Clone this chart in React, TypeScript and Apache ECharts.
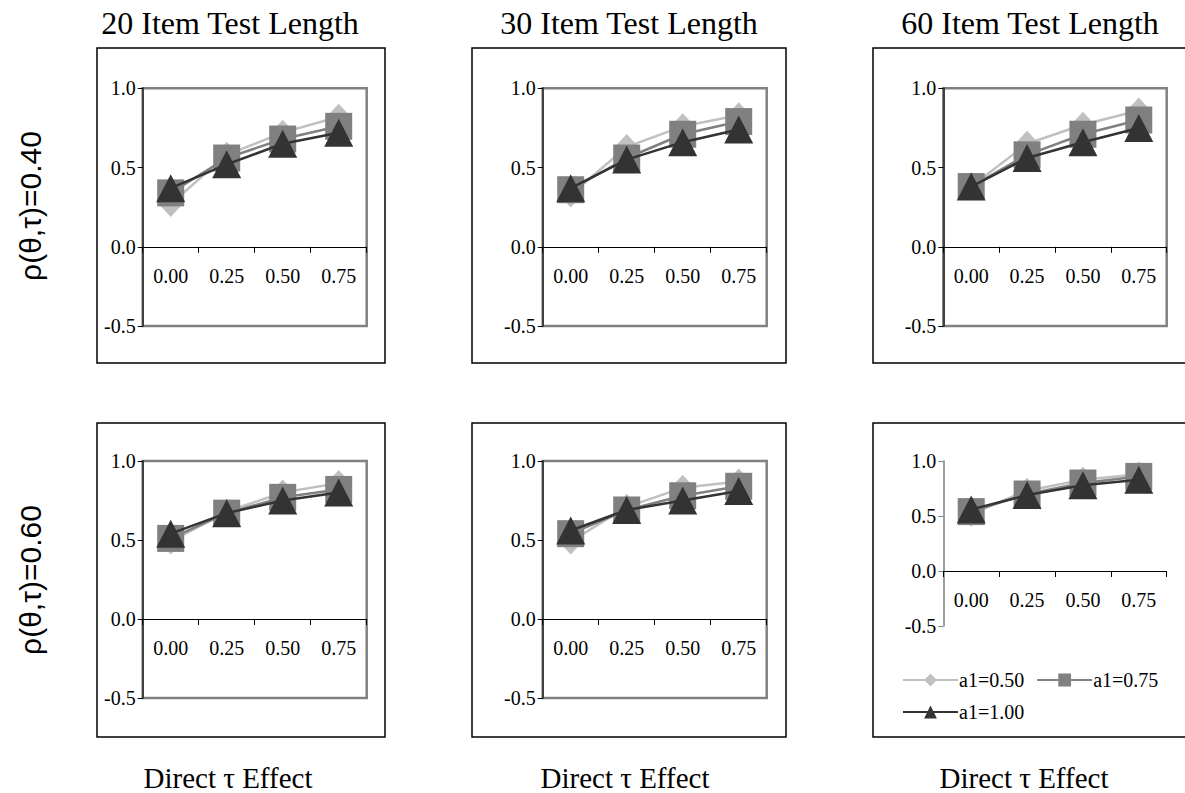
import React, { useEffect, useRef } from 'react';
import * as echarts from 'echarts';

const categories = ['0.00', '0.25', '0.50', '0.75'];
const columnTitles = ['20 Item Test Length', '30 Item Test Length', '60 Item Test Length'];
const rowLabels = ['ρ(θ,τ)=0.40', 'ρ(θ,τ)=0.60'];
const xAxisTitle = 'Direct τ Effect';
const seriesNames = ['a1=0.50', 'a1=0.75', 'a1=1.00'];
const yTicks = [-0.5, 0.0, 0.5, 1.0];

// rho = 0.40
const p20r40_a050 = [0.27, 0.58, 0.72, 0.82];
const p20r40_a075 = [0.34, 0.56, 0.68, 0.76];
const p20r40_a100 = [0.37, 0.52, 0.65, 0.72];
const p30r40_a050 = [0.33, 0.63, 0.76, 0.83];
const p30r40_a075 = [0.36, 0.56, 0.71, 0.79];
const p30r40_a100 = [0.37, 0.55, 0.66, 0.74];
const p60r40_a050 = [0.38, 0.65, 0.77, 0.86];
const p60r40_a075 = [0.38, 0.58, 0.71, 0.80];
const p60r40_a100 = [0.38, 0.56, 0.66, 0.75];
// rho = 0.60
const p20r60_a050 = [0.49, 0.68, 0.80, 0.86];
const p20r60_a075 = [0.51, 0.67, 0.77, 0.82];
const p20r60_a100 = [0.54, 0.67, 0.75, 0.80];
const p30r60_a050 = [0.49, 0.71, 0.83, 0.87];
const p30r60_a075 = [0.54, 0.69, 0.78, 0.84];
const p30r60_a100 = [0.56, 0.69, 0.75, 0.81];
const p60r60_a050 = [0.52, 0.73, 0.83, 0.88];
const p60r60_a075 = [0.54, 0.70, 0.80, 0.86];
const p60r60_a100 = [0.56, 0.69, 0.78, 0.83];

const panelData = [
  [p20r40_a050, p20r40_a075, p20r40_a100],
  [p30r40_a050, p30r40_a075, p30r40_a100],
  [p60r40_a050, p60r40_a075, p60r40_a100],
  [p20r60_a050, p20r60_a075, p20r60_a100],
  [p30r60_a050, p30r60_a075, p30r60_a100],
  [p60r60_a050, p60r60_a075, p60r60_a100],
];

const SERIF = '"Liberation Serif", "Times New Roman", serif';
const SANS = '"Liberation Sans", Arial, sans-serif';

const Y_MIN = -0.5;
const Y_MAX = 1.0;

const grids = [
  { left: 142.7, top: 88.3, width: 224, height: 237.7, border: true },
  { left: 542.7, top: 88.3, width: 224, height: 237.7, border: true },
  { left: 943.3, top: 88.3, width: 223.4, height: 237.7, border: true },
  { left: 142.7, top: 461, width: 224, height: 237, border: true },
  { left: 542.7, top: 461, width: 224, height: 237, border: true },
  { left: 943.3, top: 461, width: 223.4, height: 165, border: false },
];

const seriesStyles = [
  { color: '#c0c0c0', symbol: 'diamond', size: [24, 26] },
  { color: '#808080', symbol: 'rect', size: 27 },
  { color: '#333333', symbol: 'triangle', size: [29, 28] },
];

function buildOption() {
  const grid = grids.map((g) => ({
    left: g.left,
    top: g.top,
    width: g.width,
    height: g.height,
    show: g.border,
    borderColor: '#808080',
    borderWidth: 2.5,
    backgroundColor: 'transparent',
  }));
  const xAxis = grids.map((g, i) => ({
    type: 'category',
    gridIndex: i,
    position: 'bottom',
    // place the axis (line, ticks, labels) at the y = 0 level
    offset: -(g.height * (0 - Y_MIN)) / (Y_MAX - Y_MIN),
    data: categories,
    boundaryGap: true,
    axisLine: { onZero: false, lineStyle: { color: '#000', width: 1 } },
    axisTick: { show: true, length: 6, inside: false, lineStyle: { color: '#000', width: 1 } },
    axisLabel: { margin: 19, color: '#000', fontFamily: SERIF, fontSize: 20 },
    splitLine: { show: false },
  }));
  const yAxis = grids.map((g, i) => ({
    type: 'value',
    gridIndex: i,
    min: Y_MIN,
    max: Y_MAX,
    interval: 0.5,
    axisLine: { show: true, lineStyle: { color: g.border ? '#404040' : '#808080', width: g.border ? 2 : 1.5 } },
    axisTick: { show: true, length: 5, lineStyle: { color: g.border ? '#000' : '#808080', width: 1 } },
    axisLabel: {
      margin: 7,
      color: '#000',
      fontFamily: SERIF,
      fontSize: 20,
      formatter: (v: number) => (yTicks.includes(v) ? v.toFixed(1) : ''),
    },
    splitLine: { show: false },
  }));
  const series: any[] = [];
  panelData.forEach((panel, p) => {
    panel.forEach((vals, k) => {
      const st = seriesStyles[k];
      series.push({
        type: 'line',
        name: seriesNames[k],
        xAxisIndex: p,
        yAxisIndex: p,
        data: vals,
        symbol: st.symbol,
        symbolSize: st.size,
        lineStyle: { color: st.color, width: 2.5 },
        itemStyle: { color: st.color },
        z: 2 + k,
      });
    });
  });

  const graphic: any[] = [];
  const boxes = [
    { x: 97, y: 48, w: 288, h: 315 },
    { x: 472, y: 48, w: 314, h: 315 },
    { x: 873, y: 48, w: 330, h: 315 },
    { x: 97, y: 423, w: 288, h: 314 },
    { x: 472, y: 423, w: 314, h: 314 },
    { x: 873, y: 423, w: 330, h: 314 },
  ];
  boxes.forEach((b) => {
    graphic.push({
      type: 'rect',
      shape: { x: b.x, y: b.y, width: b.w, height: b.h },
      style: { fill: 'none', stroke: '#000', lineWidth: 1.5 },
      z: 0,
      silent: true,
    });
  });
  const titleX = [230, 629, 1030];
  columnTitles.forEach((t, i) => {
    graphic.push({
      type: 'text',
      x: titleX[i],
      y: 23,
      style: { text: t, fontFamily: SERIF, fontSize: 32, fill: '#000', align: 'center', verticalAlign: 'middle' },
    });
  });
  const bottomX = [228, 625, 1024];
  bottomX.forEach((x) => {
    graphic.push({
      type: 'text',
      x,
      y: 778,
      style: { text: xAxisTitle, fontFamily: SERIF, fontSize: 29, fill: '#000', align: 'center', verticalAlign: 'middle' },
    });
  });
  const rowY = [206, 580];
  rowLabels.forEach((t, i) => {
    graphic.push({
      type: 'text',
      x: 30,
      y: rowY[i],
      rotation: Math.PI / 2,
      style: { text: t, fontFamily: SANS, fontSize: 30, fill: '#000', align: 'center', verticalAlign: 'middle' },
    });
  });

  return {
    animation: false,
    backgroundColor: '#fff',
    grid,
    xAxis,
    yAxis,
    series,
    graphic,
    legend: {
      data: seriesNames,
      left: 902,
      top: 670,
      width: 270,
      itemWidth: 55,
      itemHeight: 16,
      itemGap: 12,
      padding: 0,
      textStyle: { fontFamily: SERIF, fontSize: 20, color: '#000', padding: [0, 0, 0, -4] },
    },
  };
}

export default function App() {
  const ref = useRef<HTMLDivElement>(null);
  useEffect(() => {
    const chart = echarts.init(ref.current!, null, { renderer: 'svg' });
    chart.setOption(buildOption() as any);
    return () => chart.dispose();
  }, []);
  return (
    <div
      ref={ref}
      style={{ position: 'fixed', left: 0, top: 0, width: 1185, height: 793, background: '#fff' }}
    />
  );
}
